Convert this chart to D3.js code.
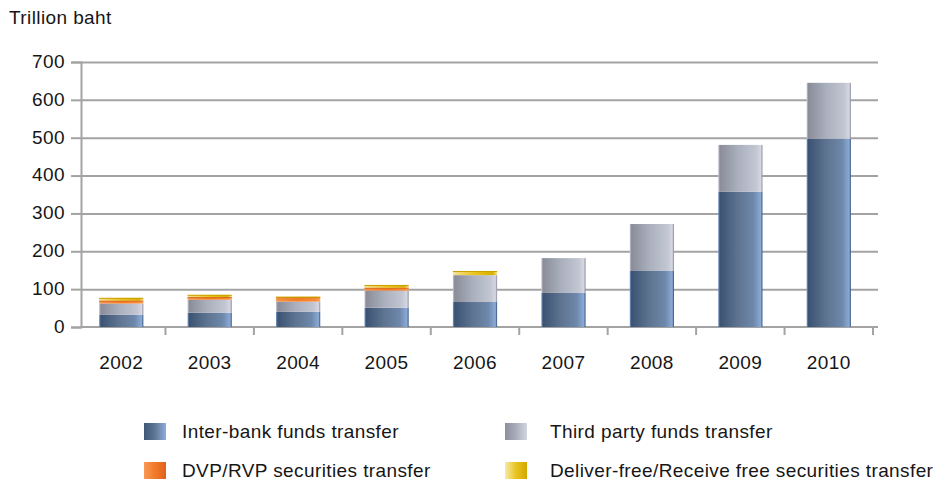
<!DOCTYPE html>
<html>
<head>
<meta charset="utf-8">
<script src="https://cdn.jsdelivr.net/npm/d3@7"></script>
<style>
  html, body { margin: 0; padding: 0; background: #fff; }
  svg { display: block; font-family: "Liberation Sans", Arial, sans-serif; }
  svg text { letter-spacing: 0.4px; }
</style>
</head>
<body>
<svg id="chart" width="936" height="482"></svg>
<script>
// Annual value of transfers (trillion baht), stacked by transfer type
const years = ["2002", "2003", "2004", "2005", "2006", "2007", "2008", "2009", "2010"];
const interBank = [32, 38, 40, 51, 66, 90, 148, 357, 497];
const thirdParty = [30, 34, 27, 45, 71, 92, 124, 124, 148];
const dvpRvp = [8, 7, 12, 8, 0, 0, 0, 0, 0];
const deliverFree = [7, 6, 1, 7, 11, 0, 0, 0, 0];
const yTicks = [0, 100, 200, 300, 400, 500, 600, 700];
const seriesNames = [
  "Inter-bank funds transfer",
  "Third party funds transfer",
  "DVP/RVP securities transfer",
  "Deliver-free/Receive free securities transfer"
];

const seriesKeys = ["inter", "third", "dvp", "free"];
const rows = years.map((y, i) => ({
  year: y, inter: interBank[i], third: thirdParty[i], dvp: dvpRvp[i], free: deliverFree[i]
}));

const svg = d3.select("#chart");
const defs = svg.append("defs");

// Horizontal gradients giving each bar its shaded, cylindrical look
const gradStops = {
  inter: [[0, "#7d9ccb"], [0.04, "#3b5373"], [0.45, "#5e7491"], [0.8, "#6e88ab"], [0.96, "#8aaad6"], [1, "#33507a"]],
  third: [[0, "#c9ccd6"], [0.04, "#8a8d99"], [0.45, "#aab0be"], [0.85, "#c2c6d2"], [0.96, "#d5d8e2"], [1, "#878a96"]],
  dvp:   [[0, "#f6a463"], [0.05, "#f48f45"], [0.5, "#f37d24"], [0.9, "#f68c3a"], [1, "#f9a45d"]],
  free:  [[0, "#f6e6a0"], [0.08, "#f2dc80"], [0.5, "#eac418"], [0.9, "#d9b000"], [1, "#f3e398"]]
};
const swatchStops = {
  inter: [[0, "#3e5677"], [0.5, "#5f7796"], [1, "#8eaedb"]],
  third: [[0, "#8b8e9b"], [0.5, "#a9aebc"], [1, "#d2d5de"]],
  dvp:   [[0, "#f79a55"], [0.5, "#f2792a"], [1, "#e0621a"]],
  free:  [[0, "#f7eaa8"], [0.5, "#e8c420"], [1, "#d2a800"]]
};
function addGrad(id, stops) {
  const g = defs.append("linearGradient").attr("id", id)
    .attr("x1", "0%").attr("x2", "100%").attr("y1", "0%").attr("y2", "0%");
  stops.forEach(s => g.append("stop").attr("offset", s[0]).attr("stop-color", s[1]));
}
seriesKeys.forEach(k => { addGrad("bar-" + k, gradStops[k]); addGrad("sw-" + k, swatchStops[k]); });
const edgeColor = { inter: null, third: null, dvp: "#d7651c", free: "#c9a200" };

// Scales
const x = d3.scaleBand().domain(years).range([77, 873]).paddingInner(0.5).paddingOuter(0.25);
const y = d3.scaleLinear().domain([0, 700]).range([327, 62]);

const gridColor = "#a3a3a3";
const textColor = "#161616";

// Horizontal gridlines and y-axis
const yAxis = d3.axisLeft(y).tickValues(yTicks).tickSize(10).tickPadding(6).tickFormat(d3.format("d"));
const yg = svg.append("g").attr("transform", "translate(81,0)").call(yAxis);
yg.select(".domain").attr("stroke", gridColor).attr("stroke-width", 2);
yg.selectAll(".tick line").attr("stroke", gridColor).attr("stroke-width", 2);
yg.selectAll(".tick text").attr("fill", textColor).attr("font-size", 19)
  .attr("font-family", "Liberation Sans, Arial, sans-serif").attr("dy", "0.28em");
yg.selectAll(".tick").filter(d => d > 0).append("line")
  .attr("x1", 0).attr("x2", 797).attr("stroke", gridColor).attr("stroke-width", 2);

// Category axis along the bottom
const step = x.step();
svg.append("line").attr("x1", 81).attr("x2", 878).attr("y1", y(0)).attr("y2", y(0))
  .attr("stroke", gridColor).attr("stroke-width", 2);
const bounds = years.map(yr => x(yr) + x.bandwidth() / 2 + step / 2);
svg.append("g").selectAll("line").data(bounds).join("line")
  .attr("x1", d => d).attr("x2", d => d).attr("y1", y(0)).attr("y2", y(0) + 8)
  .attr("stroke", gridColor).attr("stroke-width", 2);
svg.append("g").selectAll("text").data(years).join("text")
  .attr("x", d => x(d) + x.bandwidth() / 2).attr("y", 369)
  .attr("text-anchor", "middle").attr("font-size", 19).attr("fill", textColor)
  .text(d => d);

// Stacked bars
const stack = d3.stack().keys(seriesKeys)(rows);
const layers = svg.append("g").selectAll("g").data(stack).join("g")
  .attr("fill", d => "url(#bar-" + d.key + ")");
layers.each(function (layer) {
  const g = d3.select(this);
  const segs = layer.filter(d => d[1] - d[0] > 0);
  g.selectAll("rect").data(segs).join("rect")
    .attr("x", d => x(d.data.year))
    .attr("width", x.bandwidth())
    .attr("y", d => y(d[1]))
    .attr("height", d => y(d[0]) - y(d[1]));
  if (edgeColor[layer.key]) {
    g.selectAll("line").data(segs).join("line")
      .attr("x1", d => x(d.data.year)).attr("x2", d => x(d.data.year) + x.bandwidth())
      .attr("y1", d => y(d[1]) + 0.5).attr("y2", d => y(d[1]) + 0.5)
      .attr("stroke", edgeColor[layer.key]).attr("stroke-width", 1);
  }
});

// Y-axis title
svg.append("text").attr("x", 9).attr("y", 24).attr("font-size", 19).attr("fill", textColor)
  .text("Trillion baht");

// Legend: two columns, two rows
const legendPos = [
  { sx: 144, tx: 182, y: 423 },
  { sx: 505, tx: 550, y: 423 },
  { sx: 144, tx: 182, y: 462 },
  { sx: 505, tx: 550, y: 462 }
];
const legend = svg.append("g").selectAll("g").data(seriesKeys).join("g");
legend.append("rect")
  .attr("x", (d, i) => legendPos[i].sx).attr("y", (d, i) => legendPos[i].y)
  .attr("width", 22).attr("height", 17).attr("fill", d => "url(#sw-" + d + ")");
legend.append("text")
  .attr("x", (d, i) => legendPos[i].tx).attr("y", (d, i) => legendPos[i].y + 14.5)
  .attr("font-size", 19).attr("fill", textColor)
  .text((d, i) => seriesNames[i]);
</script>
</body>
</html>
